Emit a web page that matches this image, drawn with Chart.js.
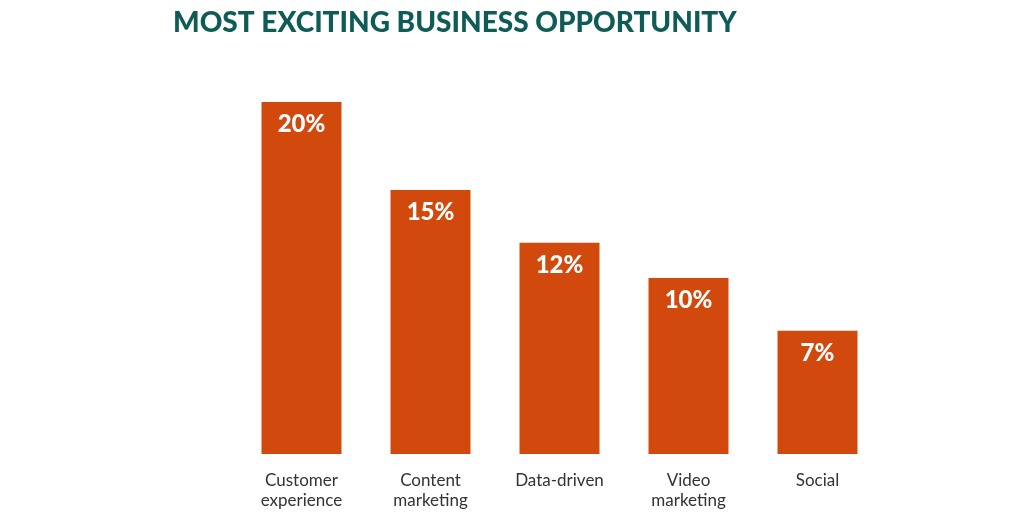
<!DOCTYPE html>
<html>
<head>
<meta charset="utf-8">
<script src="https://cdn.jsdelivr.net/npm/chart.js@4"></script>
<style>
  html, body { margin: 0; padding: 0; background: #fff; }
  #wrap { width: 1024px; height: 512px; }
</style>
</head>
<body>
<div id="wrap"><canvas id="chart"></canvas></div>
<script>
// categories + values
const categories = [
  ["Customer", "experience"],
  ["Content", "marketing"],
  ["Data-driven"],
  ["Video", "marketing"],
  ["Social"]
];
const shares = [20, 15, 12, 10, 7];
const chartTitle = "MOST EXCITING BUSINESS OPPORTUNITY";

// title is drawn by hand, it sits left of the plot area
const titlePlugin = {
  id: "topTitle",
  afterDraw(chart) {
    const ctx = chart.ctx;
    ctx.save();
    ctx.font = "900 28px Lato";
    ctx.fillStyle = "#0e5c55";
    ctx.textBaseline = "middle";
    ctx.textAlign = "left";
    ctx.fillText(chartTitle, 173, 23);
    ctx.restore();
  }
};

// white % labels inside the top of each bar
const valueLabels = {
  id: "valueLabels",
  afterDatasetsDraw(chart) {
    const ctx = chart.ctx;
    const meta = chart.getDatasetMeta(0);
    ctx.save();
    ctx.font = "900 24px Lato";
    ctx.fillStyle = "#ffffff";
    ctx.textAlign = "center";
    ctx.textBaseline = "middle";
    meta.data.forEach((bar, i) => {
      ctx.fillText(shares[i] + "%", bar.x, bar.y + 22);
    });
    ctx.restore();
  }
};

new Chart(document.getElementById("chart"), {
  type: "bar",
  data: {
    labels: categories,
    datasets: [{ data: shares, backgroundColor: "#d2490e", barPercentage: 0.62, categoryPercentage: 1 }]
  },
  options: {
    responsive: true,
    maintainAspectRatio: false,
    animation: false,
    layout: { padding: { left: 237, right: 142, top: 102, bottom: 0 } },
    plugins: { legend: { display: false }, tooltip: { enabled: false } },
    scales: {
      x: {
        grid: { display: false },
        border: { display: false },
        ticks: { color: "#333", font: { family: "Lato", size: 17, lineHeight: 1.2 }, padding: 8 },
        afterFit(scale) { scale.height = 58; }
      },
      y: { display: false, min: 0, max: 20 }
    }
  },
  plugins: [titlePlugin, valueLabels]
});
</script>
</body>
</html>
